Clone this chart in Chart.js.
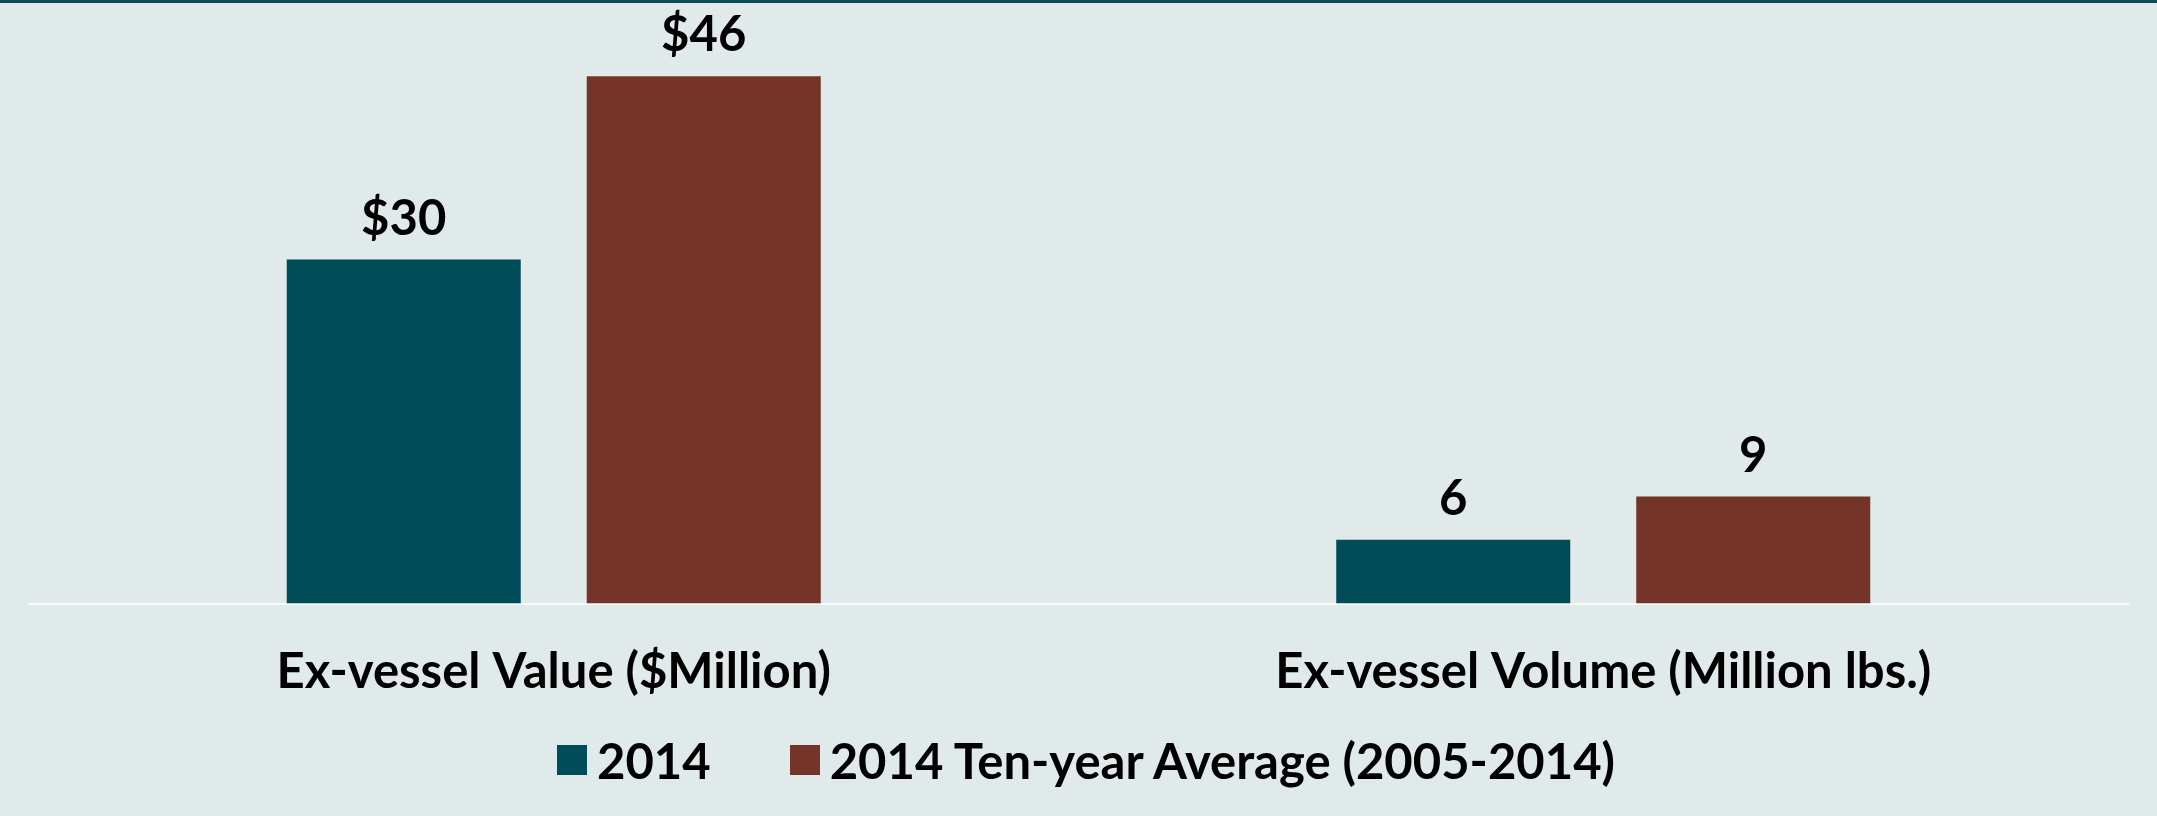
<!DOCTYPE html>
<html lang="en">
<head>
<meta charset="utf-8">
<title>Ex-vessel Value and Volume</title>
<script src="https://cdn.jsdelivr.net/npm/chart.js@4.4.1/dist/chart.umd.min.js"></script>
<style>
	html, body {
		margin: 0;
		padding: 0;
		background: #e0eaeb;
	}

	.chart-wrap {
		position: relative;
		width: 2157px;
		height: 816px;
		background: #e0eaeb;
		border-top: 3px solid #0b4b55;
		box-sizing: border-box;
		overflow: hidden;
	}

	.chart-wrap canvas {
		position: absolute;
		left: 0;
		top: -3px;
	}

	#legend-container {
		position: absolute;
		left: 0;
		right: 0;
		top: 742px;
	}

	#legend-container ul {
		display: flex;
		justify-content: center;
		margin: 0;
		padding: 0 0 0 15px;
		list-style: none;
	}

	#legend-container li {
		display: flex;
		align-items: center;
		height: 30px;
		margin-right: 79px;
	}

	#legend-container li:last-child {
		margin-right: 0;
	}

	#legend-container span {
		display: block;
		width: 30px;
		height: 30px;
		margin-right: 10px;
	}

	#legend-container p {
		margin: 0;
		font: bold 49px Lato, 'Liberation Sans', sans-serif;
		line-height: 30px;
		color: #000;
		white-space: nowrap;
	}
</style>
</head>
<body>
<div class="chart-wrap">
	<canvas id="chart" width="2157" height="816"></canvas>
	<div id="legend-container"></div>
</div>

<script>
/* ==========================================================================
 Data
 ========================================================================== */

const categories = [
	'Ex-vessel Value ($Million)',
	'Ex-vessel Volume (Million lbs.)',
];
// prefix printed in front of the rounded value label, per category
const labelPrefix = ['$', ''];

const seriesNames = [
	'2014',
	'2014 Ten-year Average (2005-2014)',
];
const values2014 = [30.2, 5.6];
const valuesAverage = [46.3, 9.4];

/* ==========================================================================
 HTML Legend
 ========================================================================== */

const getOrCreateLegendList = (chart, id) => {
	const legendContainer = document.getElementById(id);
	let listContainer = legendContainer.querySelector('ul');

	if (!listContainer) {
		listContainer = document.createElement('ul');
		legendContainer.appendChild(listContainer);
	}

	return listContainer;
};

const htmlLegendPlugin = {
	id: 'htmlLegend',
	afterUpdate(chart, args, options) {
		const ul = getOrCreateLegendList(chart, options.containerID);

		while (ul.firstChild) {
			ul.firstChild.remove();
		}

		const items = chart.options.plugins.legend.labels.generateLabels(chart);

		items.forEach(item => {
			const li = document.createElement('li');

			const boxSpan = document.createElement('span');
			boxSpan.style.background = item.fillStyle;

			const textContainer = document.createElement('p');
			textContainer.appendChild(document.createTextNode(item.text));

			li.appendChild(boxSpan);
			li.appendChild(textContainer);
			ul.appendChild(li);
		});
	}
};

/* ==========================================================================
 Value labels above bars
 ========================================================================== */

const valueLabelPlugin = {
	id: 'valueLabels',
	afterDatasetsDraw(chart) {
		const {ctx} = chart;
		ctx.save();
		ctx.font = 'bold 49px Lato, "Liberation Sans", sans-serif';
		ctx.fillStyle = '#000';
		ctx.textAlign = 'center';
		ctx.textBaseline = 'alphabetic';

		chart.data.datasets.forEach((dataset, i) => {
			chart.getDatasetMeta(i).data.forEach((bar, j) => {
				const text = labelPrefix[j] + Math.round(dataset.data[j]);
				ctx.fillText(text, bar.x, bar.y - 25);
			});
		});

		ctx.restore();
	}
};

/* ==========================================================================
 Config
 ========================================================================== */

const config = {
	type: 'bar',
	data: {
		labels: categories,
		datasets: [
			{
				label: seriesNames[0],
				backgroundColor: '#004d59',
				data: values2014,
			},
			{
				label: seriesNames[1],
				backgroundColor: '#743427',
				data: valuesAverage,
			},
		],
	},
	options: {
		responsive: false,
		animation: false,
		categoryPercentage: 0.5717,
		barPercentage: 0.78,
		layout: {
			padding: {
				top: 34,
				left: 29,
				right: 29,
				bottom: 75.6,
			},
		},
		scales: {
			x: {
				grid: {
					display: false,
					drawTicks: false,
				},
				border: {
					display: true,
					color: '#f7fafa',
					width: 2,
				},
				ticks: {
					color: '#000',
					padding: 39,
					maxRotation: 0,
					font: {
						size: 49,
						weight: 'bold',
						family: "Lato, 'Liberation Sans', sans-serif",
					},
				},
			},
			y: {
				min: 0,
				max: 50,
				display: false,
			},
		},
		plugins: {
			tooltip: {
				enabled: false,
			},
			htmlLegend: {
				containerID: 'legend-container',
			},
			legend: {
				display: false,
			},
		},
	},
	plugins: [htmlLegendPlugin, valueLabelPlugin],
};

/* ==========================================================================
 Render
 ========================================================================== */

const myChart = new Chart(document.getElementById('chart'), config);
</script>
</body>
</html>
